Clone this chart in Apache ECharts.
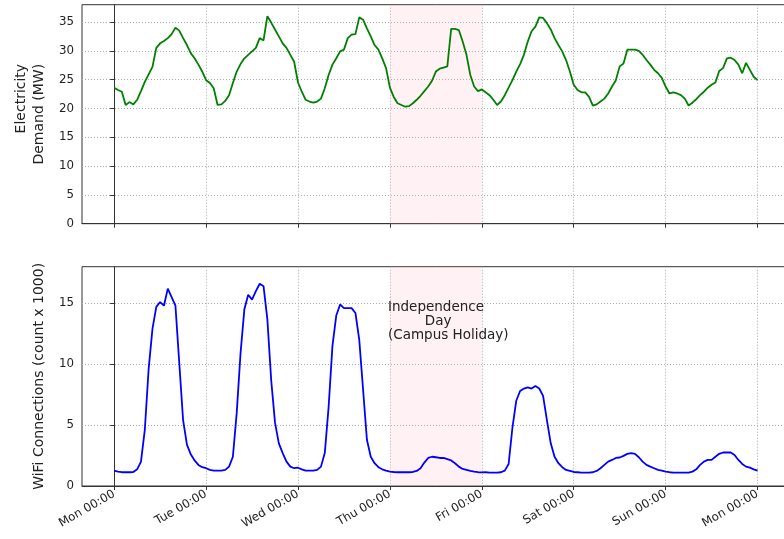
<!DOCTYPE html>
<html>
<head>
<meta charset="utf-8">
<script src="https://cdn.jsdelivr.net/npm/echarts@6/dist/echarts.min.js"></script>
<style>
html,body{margin:0;padding:0;background:#fff;overflow:hidden;width:784px;height:539px;}
#chart{width:796px;height:539px;}
</style>
</head>
<body>
<div id="chart"></div>
<script>
// Hourly values, Mon 00:00 .. next Mon 00:00
const elecDemand = [
  23.6, 23.2, 22.9, 20.6, 21.1, 20.7, 21.5, 23.0, 24.6, 25.9, 27.2, 30.5, 31.3, 31.7, 32.2, 32.9, 34.0, 33.5, 32.2, 31.0, 29.6, 28.7, 27.6, 26.4,
  24.9, 24.4, 23.5, 20.6, 20.7, 21.3, 22.3, 24.4, 26.4, 27.7, 28.7, 29.3, 29.9, 30.5, 32.2, 31.8, 36.0, 34.9, 33.7, 32.5, 31.3, 30.5, 29.3, 28.1,
  24.5, 22.9, 21.5, 21.2, 21.0, 21.2, 21.7, 23.5, 25.8, 27.6, 28.7, 29.9, 30.2, 32.2, 32.8, 32.9, 35.8, 35.4, 33.9, 32.5, 31.0, 30.2, 28.7, 27.0,
  23.6, 22.0, 20.9, 20.6, 20.3, 20.4, 20.9, 21.5, 22.2, 23.0, 23.8, 24.8, 26.4, 26.9, 27.1, 27.3, 33.8, 33.8, 33.6, 31.6, 29.3, 25.8, 23.8, 23.0,
  23.3, 22.8, 22.3, 21.5, 20.6, 21.2, 22.3, 23.6, 24.9, 26.4, 27.7, 29.3, 31.6, 33.4, 34.2, 35.8, 35.7, 34.8, 33.7, 32.2, 31.0, 29.9, 28.4, 26.4,
  24.1, 23.2, 22.8, 22.8, 22.0, 20.5, 20.7, 21.2, 21.7, 22.6, 23.8, 24.9, 27.3, 27.8, 30.2, 30.2, 30.2, 30.0, 29.3, 28.4, 27.6, 26.7, 26.1, 25.3,
  23.8, 22.6, 22.8, 22.6, 22.3, 21.7, 20.5, 21.0, 21.6, 22.3, 22.9, 23.6, 24.1, 24.5, 26.5, 27.0, 28.7, 28.8, 28.4, 27.6, 26.1, 27.9, 26.7, 25.5,
  24.9
];
const wifiConnections = [
  1.26, 1.18, 1.13, 1.13, 1.13, 1.15, 1.37, 2.0, 4.6, 9.6, 12.9, 14.7, 15.1, 14.8, 16.2, 15.5, 14.8, 10.1, 5.4, 3.4, 2.6, 2.1, 1.73, 1.54,
  1.46, 1.32, 1.26, 1.26, 1.26, 1.32, 1.59, 2.4, 6.0, 10.9, 14.5, 15.7, 15.3, 16.0, 16.6, 16.4, 13.7, 8.7, 5.2, 3.5, 2.7, 2.0, 1.59, 1.46,
  1.5, 1.37, 1.26, 1.26, 1.26, 1.32, 1.59, 2.7, 6.5, 11.5, 14.0, 14.9, 14.6, 14.6, 14.6, 14.2, 12.0, 7.9, 3.8, 2.4, 1.87, 1.54, 1.37, 1.26,
  1.18, 1.15, 1.13, 1.13, 1.13, 1.13, 1.15, 1.24, 1.46, 1.92, 2.3, 2.4, 2.36, 2.3, 2.3, 2.2, 2.1, 1.87, 1.59, 1.40, 1.32, 1.24, 1.18, 1.13,
  1.12, 1.13, 1.10, 1.10, 1.10, 1.13, 1.26, 1.8, 4.8, 7.0, 7.8, 8.0, 8.1, 8.0, 8.2, 8.0, 7.4, 5.4, 3.5, 2.4, 1.87, 1.54, 1.32, 1.24,
  1.15, 1.13, 1.10, 1.10, 1.10, 1.13, 1.24, 1.46, 1.73, 2.0, 2.14, 2.3, 2.34, 2.47, 2.64, 2.7, 2.64, 2.36, 2.0, 1.73, 1.59, 1.46, 1.32, 1.26,
  1.18, 1.13, 1.10, 1.10, 1.10, 1.10, 1.10, 1.18, 1.37, 1.73, 2.0, 2.14, 2.14, 2.4, 2.64, 2.75, 2.75, 2.75, 2.55, 2.14, 1.81, 1.59, 1.51, 1.37,
  1.26
];
const tickHours = [0, 24, 48, 72, 96, 120, 144, 168];
const tickLabels = ['Mon 00:00', 'Tue 00:00', 'Wed 00:00', 'Thu 00:00', 'Fri 00:00', 'Sat 00:00', 'Sun 00:00', 'Mon 00:00'];
const elecTicks = [0, 5, 10, 15, 20, 25, 30, 35];
const wifiTicks = [0, 5, 10, 15];
const holidayStart = 72, holidayEnd = 96;
const holidayText = ['Independence', 'Day', '(Campus Holiday)'];

const hours = elecDemand.map((_, i) => i);
const FONT = 'DejaVu Sans';
const AX = '#333';
const gridLine = { show: true, lineStyle: { color: '#a8a8a8', width: 1, type: [1, 2] } };

function xAxis(gi, showLabels) {
  return {
    type: 'value', gridIndex: gi, min: -8.4, max: 176.4,
    axisLine: { show: true, onZero: false, lineStyle: { color: AX, width: 1 } },
    axisTick: { show: true, inside: false, length: 4, customValues: tickHours, lineStyle: { color: AX } },
    axisLabel: {
      show: showLabels, customValues: tickHours, rotate: 30, margin: 7,
      fontFamily: FONT, fontSize: 11.8, color: '#222',
      formatter: v => tickLabels[tickHours.indexOf(Math.round(v))] || ''
    },
    splitLine: gridLine
  };
}
const nameRich = { r: { fontFamily: FONT, fontSize: 14, color: '#222', lineHeight: 17.5, align: 'right' } };
function yAxis(gi, max, ticks, name, gap) {
  return {
    type: 'value', gridIndex: gi, min: 0, max: max,
    axisLine: { show: true, lineStyle: { color: AX, width: 1 } },
    axisTick: { show: true, length: 4, customValues: ticks, lineStyle: { color: AX } },
    axisLabel: { customValues: ticks, margin: 8, fontFamily: FONT, fontSize: 11.8, color: '#222' },
    splitLine: gridLine,
    name: name, nameLocation: 'middle', nameRotate: 90, nameGap: gap,
    nameTextStyle: { fontFamily: FONT, fontSize: 14, color: '#222', lineHeight: 17.5, rich: nameRich }
  };
}

const holidayArea = {
  silent: true,
  itemStyle: { color: 'rgba(255,192,203,0.22)' },
  data: [[{ xAxis: holidayStart }, { xAxis: holidayEnd }]]
};

const chart = echarts.init(document.getElementById('chart'), null, { renderer: 'canvas' });
chart.setOption({
  animation: false,
  backgroundColor: '#fff',
  grid: [
    { left: 82, top: 4.7, width: 707.7, height: 219, show: true, borderColor: AX, borderWidth: 1, backgroundColor: 'transparent' },
    { left: 82, top: 266.7, width: 707.7, height: 219.3, show: true, borderColor: AX, borderWidth: 1, backgroundColor: 'transparent' }
  ],
  xAxis: [xAxis(0, false), xAxis(1, true)],
  yAxis: [
    yAxis(0, 38, elecTicks, '{r|Electricity}\n{r|Demand (MW)}', 30),
    yAxis(1, 18, wifiTicks, 'WiFi Connections (count x 1000)', 33)
  ],
  series: [
    {
      type: 'line', xAxisIndex: 0, yAxisIndex: 0, showSymbol: false, symbol: 'none',
      data: hours.map((h, i) => [h, elecDemand[i]]),
      lineStyle: { color: '#008000', width: 1.8 },
      markArea: holidayArea
    },
    {
      type: 'line', xAxisIndex: 1, yAxisIndex: 1, showSymbol: false, symbol: 'none',
      data: hours.map((h, i) => [h, wifiConnections[i]]),
      lineStyle: { color: '#0000ff', width: 1.8 },
      markArea: holidayArea,
      markPoint: {
        silent: true, symbol: 'circle', symbolSize: 0,
        label: { show: true, fontFamily: FONT, fontSize: 13.5, color: '#222' },
        data: [
          { coord: [71.5, 14.67], label: { position: 'right', distance: 0, formatter: holidayText[0] } },
          { coord: [84.6, 13.47], label: { position: 'inside', formatter: holidayText[1] } },
          { coord: [71.5, 12.35], label: { position: 'right', distance: 0, formatter: holidayText[2] } }
        ]
      }
    }
  ]
});
</script>
</body>
</html>
